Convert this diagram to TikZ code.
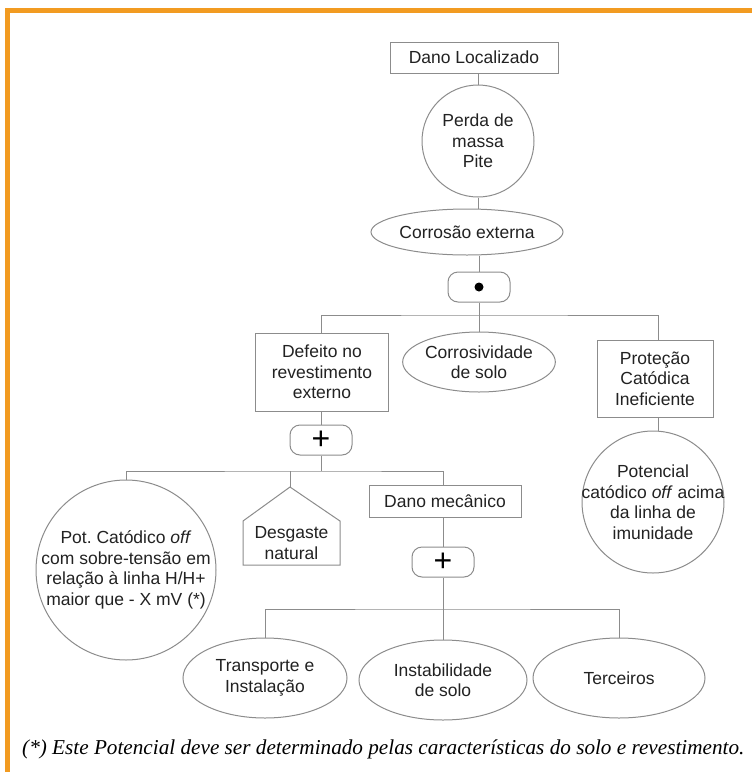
\documentclass[tikz,border=0pt]{standalone}
\usepackage{fontspec}
\setmainfont{Liberation Sans}
\newfontfamily\notefont{Liberation Serif}
\usetikzlibrary{shapes.geometric}
\definecolor{frameorange}{HTML}{F29B21}
\definecolor{linegray}{HTML}{8C8C8C}
\definecolor{inkgray}{HTML}{222222}
\frenchspacing

\begin{document}
\begin{tikzpicture}[x=1pt,y=-1pt,
  lbl/.style={font=\fontsize{17.5}{20.5}\selectfont, text=inkgray, align=center, inner sep=0pt},
  conn/.style={draw=linegray, line width=1pt},
  boxnode/.style={lbl, draw=linegray, line width=1pt, fill=white, rectangle},
  roundnode/.style={lbl, draw=linegray, line width=1pt, fill=white, circle},
  ovalnode/.style={lbl, draw=linegray, line width=1pt, fill=white, ellipse},
  gatenode/.style={draw=linegray, line width=1pt, fill=white, rectangle,
    rounded corners=10pt, minimum width=62pt, minimum height=30pt, inner sep=0pt,
    text=black, font=\fontsize{32}{32}\selectfont}
]
\useasboundingbox (0,0) rectangle (752,772);

% orange frame
\fill[frameorange] (5,8) rectangle (752,13);
\fill[frameorange] (5,8) rectangle (10,772);

% top event and first chain
\node[boxnode, minimum width=168pt, minimum height=31pt] (top) at (474,57.5) {Dano Localizado};
\node[roundnode, minimum size=112pt] (perda) at (478,141) {Perda de\\massa\\Pite};
\node[ovalnode, minimum width=192pt, minimum height=46pt] (corr) at (467,232) {Corrosão externa};
\node[gatenode] (gA) at (479,287) {};
\fill[black] (gA.center) circle (4.5);

% second level
\node[boxnode, minimum width=133pt, minimum height=78pt] (defeito) at (322,372) {Defeito no\\revestimento\\externo};
\node[ovalnode, minimum width=136pt, minimum height=60pt] (solo) at (479,362) {Corrosividade\\de solo};
\node[boxnode, minimum width=116pt, minimum height=77pt] (prot) at (655,378.5) {Proteção\\Catódica\\Ineficiente};
% circle outline sized on its own; the wide text is set on top of it
\node[roundnode, minimum size=142pt] (potoff) at (653,502) {};
\node[lbl] (potofftext) at (potoff.center) {Potencial\\catódico \textit{off} acima\\da linha de\\imunidade};

% coating branch
\node[gatenode] (gB) at (321,440) {+};
\node[roundnode, minimum size=180pt] (sobre) at (126,570) {};
\node[lbl] (sobretext) at (sobre.center) {Pot. Catódico \textit{off}\\com sobre-tensão em\\relação à linha H/H+\\maior que - X mV (*)};
\draw[conn, fill=white] (290,487) -- (340,521) -- (340,565) -- (243,565) -- (243,521) -- cycle;
\coordinate (desgtop) at (290,487);
\node[lbl] (desg) at (291.5,543) {Desgaste\\natural};
\node[boxnode, minimum width=152pt, minimum height=32pt] (mec) at (445,501) {Dano mecânico};
\node[gatenode] (gC) at (443,562) {+};

% mechanical damage causes
\node[ovalnode, minimum width=164pt, minimum height=80pt] (transp) at (265,678) {Transporte e\\Instalação};
\node[ovalnode, minimum width=168pt, minimum height=80pt] (instab) at (443,680) {Instabilidade\\de solo};
\node[ovalnode, minimum width=172pt, minimum height=80pt] (terc) at (619,678) {Terceiros};

% junctions of the horizontal buses
\coordinate (busA) at (479,315);
\coordinate (protin) at (658,315);
\coordinate (busB) at (321,471);
\coordinate (busC) at (443,609);

% connectors
\draw[conn] (top.south -| perda.north) -- (perda.north);
\draw[conn] (perda.south) -- (corr.north -| perda.south);
\draw[conn] (corr.south -| gA.north) -- (gA.north);
\draw[conn] (gA.south) -- (busA);
\draw[conn] (defeito.north -| gB.north) |- (busA) -- (protin) -- (protin |- prot.north);
\draw[conn] (busA) -- (solo.north);
\draw[conn] (prot.south -| protin) -- (potoff.north -| protin);
\draw[conn] (defeito.south -| gB.north) -- (gB.north);
\draw[conn] (gB.south) -- (busB);
\draw[conn] (sobre.north) |- (busB) -| (gC.north |- mec.north);
\draw[conn] (desgtop) -- (desgtop |- busB);
\draw[conn] (mec.south -| gC.north) -- (gC.north);
\draw[conn] (gC.south) -- (busC);
\draw[conn] (transp.north) |- (busC) -| (terc.north);
\draw[conn] (busC) -- (instab.north);

% footnote
\node[anchor=west, inner sep=0pt, text=black, font=\notefont\itshape\fontsize{21.2}{24}\selectfont] (note) at (22,749)
  {(*) Este Potencial deve ser determinado pelas características do solo e revestimento.};
\end{tikzpicture}
\end{document}
